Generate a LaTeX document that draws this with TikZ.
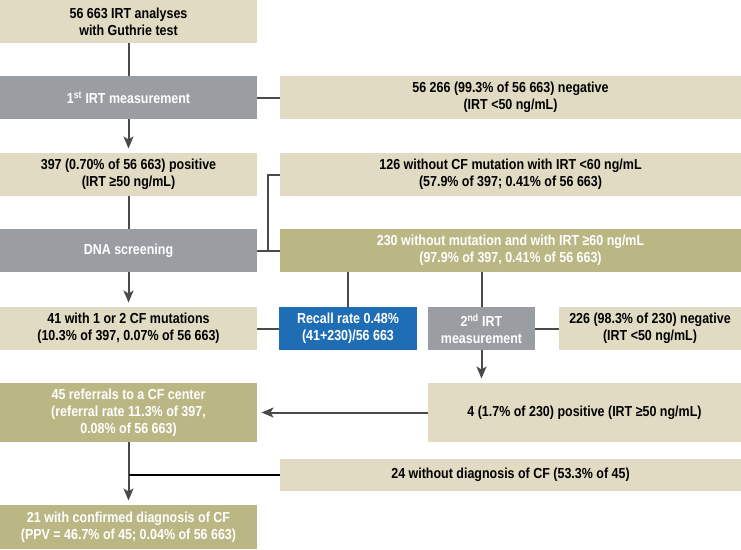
\documentclass[tikz,border=0pt]{standalone}
\usepackage{fontspec}
\setmainfont{Liberation Sans}[FakeStretch=0.86]
\usetikzlibrary{arrows.meta, positioning}
\definecolor{sand}{HTML}{E0DBC2}
\definecolor{moss}{HTML}{BBB784}
\definecolor{stone}{HTML}{9A9DA1}
\definecolor{recallblue}{HTML}{1F6DB4}
\definecolor{linegrey}{HTML}{4A4A4A}

\begin{document}
\begin{tikzpicture}[
        box/.style={
            rectangle,
            inner sep=2pt,
            outer sep=0pt,
            minimum height=43pt,
            align=center,
            font=\bfseries\fontsize{14.5}{17}\selectfont
        },
        pale/.style={box, fill=sand, text=black},
        greybox/.style={box, fill=stone, text=white},
        olivebox/.style={box, fill=moss, text=white},
        recallbox/.style={box, fill=recallblue, text=white},
        leftcol/.style={minimum width=257pt},
        rightcol/.style={minimum width=461pt},
        link/.style={draw=linegrey, line width=2pt},
        branch/.style={draw=black, line width=2pt},
        arrow/.style={link, -{Stealth[length=12pt, width=10pt, inset=3pt]}, shorten >=4.5pt}
    ]

        \useasboundingbox (0,0) rectangle (741pt,-549pt);

        \node[pale, leftcol, anchor=north west] (analyses) at (0,0) {56 663 IRT analyses\\ with Guthrie test};

        \node[greybox, leftcol, below=33pt of analyses] (first) {1\textsuperscript{st} IRT measurement};
        \node[pale, rightcol, right=23pt of first] (negfirst) {56 266 (99.3\% of 56 663) negative\\ (IRT <50 ng/mL)};

        \node[pale, leftcol, below=34pt of first] (positive) {397 (0.70\% of 56 663) positive\\ (IRT ≥50 ng/mL)};
        \node[pale, rightcol, right=23pt of positive] (nomut) {126 without CF mutation with IRT <60 ng/mL\\ (57.9\% of 397; 0.41\% of 56 663)};

        \node[greybox, leftcol, below=33pt of positive] (dna) {DNA screening};
        \node[olivebox, rightcol, right=23pt of dna] (highirt) {230 without mutation and with IRT ≥60 ng/mL\\ (97.9\% of 397, 0.41\% of 56 663)};

        \node[pale, leftcol, below=35pt of dna] (cfmut) {41 with 1 or 2 CF mutations\\ (10.3\% of 397, 0.07\% of 56 663)};
        \node[recallbox, minimum width=138pt, right=22pt of cfmut] (recall) {Recall rate 0.48\%\\ (41+230)/56 663};
        \node[greybox, minimum width=107pt, right=11pt of recall] (second) {2\textsuperscript{nd} IRT\\ measurement};
        \node[pale, minimum width=182pt, right=24pt of second] (negsecond) {226 (98.3\% of 230) negative\\ (IRT <50 ng/mL)};

        \node[olivebox, leftcol, minimum height=59pt, below=33pt of cfmut] (referral) {45 referrals to a CF center\\ (referral rate 11.3\% of 397,\\ 0.08\% of 56 663)};
        \node[pale, minimum width=313pt, minimum height=59pt, right=171pt of referral] (possecond) {4 (1.7\% of 230) positive (IRT ≥50 ng/mL)};

        \node[pale, rightcol, minimum height=32pt, below right=17pt and 23pt of referral.south east] (nodiag) {24 without diagnosis of CF (53.3\% of 45)};

        \node[olivebox, leftcol, minimum height=44pt, below=63pt of referral] (confirmed) {21 with confirmed diagnosis of CF\\ (PPV = 46.7\% of 45; 0.04\% of 56 663)};

        \coordinate[right=11pt of dna.east] (fork);

        \draw[link] (analyses) -- (first);
        \draw[link] (first) -- (negfirst);
        \draw[arrow] (first) -- (positive);
        \draw[link] (positive) -- (dna);
        \draw[link] (dna) -- (highirt);
        \draw[link] (fork) |- (nomut.west);
        \draw[arrow] (dna) -- (cfmut);
        \draw[link] (cfmut) -- (recall);
        \draw[link] (recall) -- (recall |- highirt.south);
        \draw[link] (second) -- (second |- highirt.south);
        \draw[link] (second) -- (negsecond);
        \draw[arrow] (second) -- (second |- possecond.north);
        \draw[arrow] (possecond) -- (referral);
        \draw[arrow] (referral) -- (confirmed);
        \draw[branch] (referral.south |- nodiag.west) -- (nodiag);

    \end{tikzpicture}
\end{document}
